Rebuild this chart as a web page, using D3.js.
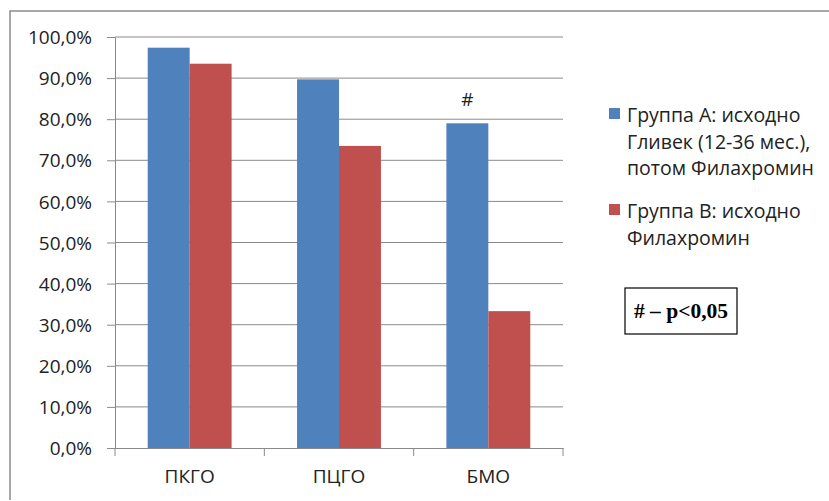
<!DOCTYPE html>
<html>
<head>
<meta charset="utf-8">
<script src="https://cdn.jsdelivr.net/npm/d3@7"></script>
<style>
  html, body { margin: 0; padding: 0; background: #fff; }
  svg { display: block; }
  .tick text { font-family: "Open Sans", "Liberation Sans", sans-serif; fill: #222; }
</style>
</head>
<body>
<svg id="chart" width="829" height="501"></svg>
<script>
// Share of patients with response, by response type and treatment group
const categories = ["ПКГО", "ПЦГО", "БМО"];
const seriesNames = [
  ["Группа А: исходно", "Гливек (12-36 мес.),", "потом Филахромин"],
  ["Группа В: исходно", "Филахромин"]
];
const groupA = [97.4, 89.7, 79.0];
const groupB = [93.5, 73.5, 33.3];
const yTicks = [0, 10, 20, 30, 40, 50, 60, 70, 80, 90, 100];
const markers = ["", "", "#"];          // significance mark above group A bar
const noteText = "# – p<0,05";
const colors = ["#4F81BD", "#C0504D"];

const svg = d3.select("#chart");
const font = "'Open Sans', 'Liberation Sans', sans-serif";

// frame (top and left edges)
svg.append("path")
  .attr("d", "M10,500 L10,11 L829,11")
  .attr("fill", "none").attr("stroke", "#8c8c8c").attr("stroke-width", 1.5);

const plot = { left: 115, right: 563, top: 37, bottom: 448 };

const x = d3.scaleBand().domain(categories).range([plot.left, plot.right]);
const y = d3.scaleLinear().domain([0, 100]).range([plot.bottom, plot.top]);

// horizontal gridlines
svg.append("g").selectAll("line").data(yTicks.filter(d => d > 0)).join("line")
  .attr("x1", plot.left).attr("x2", plot.right)
  .attr("y1", d => y(d)).attr("y2", d => y(d))
  .attr("stroke", "#8a8a8a").attr("stroke-width", 1);

// y axis
const fmt = d => d.toFixed(1).replace(".", ",") + "%";
const yAxis = svg.append("g").attr("transform", `translate(${plot.left},0)`)
  .call(d3.axisLeft(y).tickValues(yTicks).tickFormat(fmt).tickSize(8).tickPadding(15));
yAxis.select(".domain").attr("stroke", "#8a8a8a");
yAxis.selectAll(".tick line").attr("stroke", "#8a8a8a");
yAxis.selectAll(".tick text").attr("font-size", 19).attr("dy", "0.35em");

// bars
const inner = d3.scaleBand().domain([0, 1]).range([0, x.bandwidth()]).paddingInner(0).paddingOuter(0.78);
const series = [groupA, groupB];
series.forEach((vals, s) => {
  svg.append("g").selectAll("rect").data(vals).join("rect")
    .attr("x", (d, i) => x(categories[i]) + inner(s))
    .attr("width", inner.bandwidth())
    .attr("y", d => y(d))
    .attr("height", d => y(0) - y(d))
    .attr("fill", colors[s]);
});

// x axis
const xAxis = svg.append("g").attr("transform", `translate(0,${plot.bottom})`)
  .call(d3.axisBottom(x).tickSize(0).tickPadding(22));
xAxis.select(".domain").attr("stroke", "#8a8a8a");
xAxis.selectAll(".tick text").attr("font-size", 19);
// category separator ticks
const bounds = [plot.left, ...categories.map(c => x(c) + x.bandwidth())];
svg.append("g").selectAll("line").data(bounds).join("line")
  .attr("x1", d => d).attr("x2", d => d)
  .attr("y1", plot.bottom).attr("y2", plot.bottom + 8)
  .attr("stroke", "#8a8a8a");

// significance markers
svg.append("g").selectAll("text").data(markers).join("text")
  .attr("x", (d, i) => x(categories[i]) + inner(0) + inner.bandwidth() / 2)
  .attr("y", (d, i) => y(groupA[i]) - 17)
  .attr("text-anchor", "middle")
  .attr("font-family", font).attr("font-size", 19).attr("fill", "#222")
  .text(d => d);

// legend
const legend = svg.append("g");
const legendTop = [108, 204];
seriesNames.forEach((lines, s) => {
  legend.append("rect")
    .attr("x", 609).attr("y", legendTop[s]).attr("width", 11).attr("height", 11)
    .attr("fill", colors[s]);
  lines.forEach((t, k) => {
    legend.append("text")
      .attr("x", 627).attr("y", legendTop[s] + 14 + k * 26.5)
      .attr("font-family", font).attr("font-size", 19.5).attr("fill", "#222")
      .text(t);
  });
});

// note box
svg.append("rect")
  .attr("x", 625).attr("y", 288).attr("width", 112).attr("height", 46)
  .attr("fill", "#fff").attr("stroke", "#000").attr("stroke-width", 1.2);
svg.append("text")
  .attr("x", 681).attr("y", 318)
  .attr("text-anchor", "middle")
  .attr("font-family", "'Liberation Serif', 'DejaVu Serif', serif")
  .attr("font-weight", "bold").attr("font-size", 21.5).attr("fill", "#000")
  .text(noteText);
</script>
</body>
</html>
